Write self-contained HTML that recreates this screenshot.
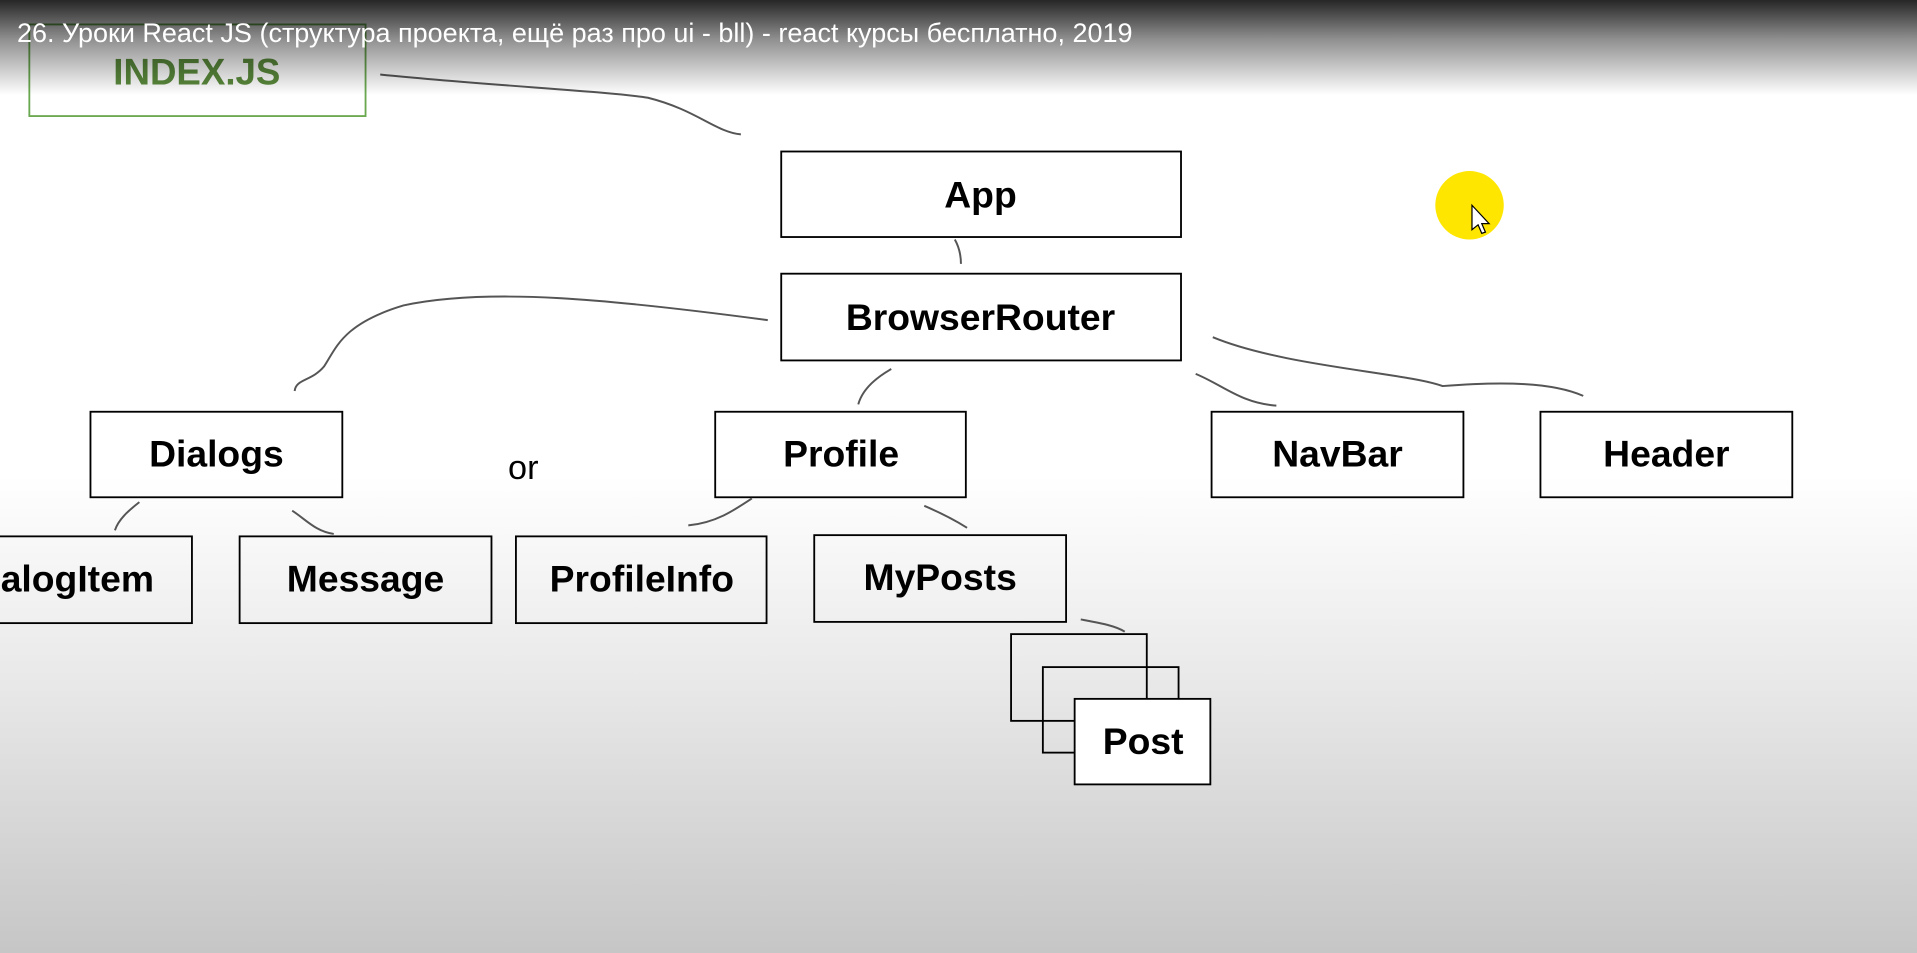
<!DOCTYPE html>
<html><head><meta charset="utf-8">
<style>
html,body{margin:0;padding:0;width:1917px;height:953px;overflow:hidden}
body{background:linear-gradient(to bottom,#fff 0%,#fff 50%,#e8e8e8 72%,#c6c6c6 100%);position:relative;font-family:"Liberation Sans",sans-serif}
#top{position:absolute;left:0;top:0;width:1917px;height:95px;background:linear-gradient(to bottom,rgba(0,0,0,0.85),rgba(0,0,0,0.45) 40%,rgba(0,0,0,0))}
#title{position:absolute;left:17px;top:18px;color:#fff;font-size:27px;font-family:"Liberation Sans","DejaVu Sans",sans-serif;white-space:nowrap}
svg{position:absolute;left:0;top:0}
</style></head><body>
<svg width="1917" height="953" viewBox="0 0 1568 780" preserveAspectRatio="none">
<g fill="none" stroke="#000" stroke-width="1.5">
<rect x="639" y="124" width="327" height="70"/>
<rect x="639" y="224" width="327" height="71"/>
<rect x="74" y="337" width="206" height="70"/>
<rect x="585" y="337" width="205" height="70"/>
<rect x="991" y="337" width="206" height="70"/>
<rect x="1260" y="337" width="206" height="70"/>
<rect x="-60" y="439" width="217" height="71"/>
<rect x="196" y="439" width="206" height="71"/>
<rect x="422" y="439" width="205" height="71"/>
<rect x="666" y="438" width="206" height="71"/>
<rect x="827" y="519" width="111" height="71"/>
<rect x="853" y="546" width="111" height="70"/>
<rect x="879" y="572" width="111" height="70" fill="#fff"/>
</g>
<rect x="24" y="20" width="275" height="75" fill="none" stroke="#6aa84f" stroke-width="1.5"/>
<g fill="none" stroke="#555" stroke-width="1.6">
<path d="M311,61 C400,70 500,75 530,80 C570,90 585,108 606,110"/>
<path d="M781,196 Q786,205 786,216"/>
<path d="M628,262 C500,245 400,235 330,250 C280,265 275,285 265,300 C255,312 242,310 241,320"/>
<path d="M729,302 C715,310 705,320 702,331"/>
<path d="M978,306 C1000,315 1015,330 1044,332"/>
<path d="M992,276 C1050,300 1150,305 1180,316 C1230,312 1270,313 1295,324"/>
<path d="M114,411 C105,418 97,425 94,434"/>
<path d="M239,418 C250,425 258,435 273,437"/>
<path d="M615,408 C600,418 585,428 563,430"/>
<path d="M756,414 C770,420 780,425 791,432"/>
<path d="M884,507 C900,510 912,512 920,517"/>
</g>
<g font-family="Liberation Sans, sans-serif" font-weight="bold" font-size="30.5" text-anchor="middle" fill="#000">
<text x="802" y="170">App</text>
<text x="802" y="270">BrowserRouter</text>
<text x="177" y="382">Dialogs</text>
<text x="688" y="382">Profile</text>
<text x="1094" y="382">NavBar</text>
<text x="1363" y="382">Header</text>
<text x="48" y="484">DialogItem</text>
<text x="299" y="484">Message</text>
<text x="525" y="484">ProfileInfo</text>
<text x="769" y="483">MyPosts</text>
<text x="935" y="617">Post</text>
<text x="161" y="69" fill="#5a8a3c" font-size="30">INDEX.JS</text>
</g>
<text x="428" y="392" font-family="Liberation Sans, sans-serif" font-size="28" text-anchor="middle">or</text>
<circle cx="1202" cy="168" r="28" fill="#ffe600"/>
<path d="M1204,168 L1204,188 L1209,184 L1212,191 L1215,190 L1212,183 L1218,183 Z" fill="#fff" stroke="#000" stroke-width="1"/>
</svg>
<div id="top"></div>
<div id="title">26. Уроки React JS (структура проекта, ещё раз про ui - bll) - react курсы бесплатно, 2019</div>
</body></html>
